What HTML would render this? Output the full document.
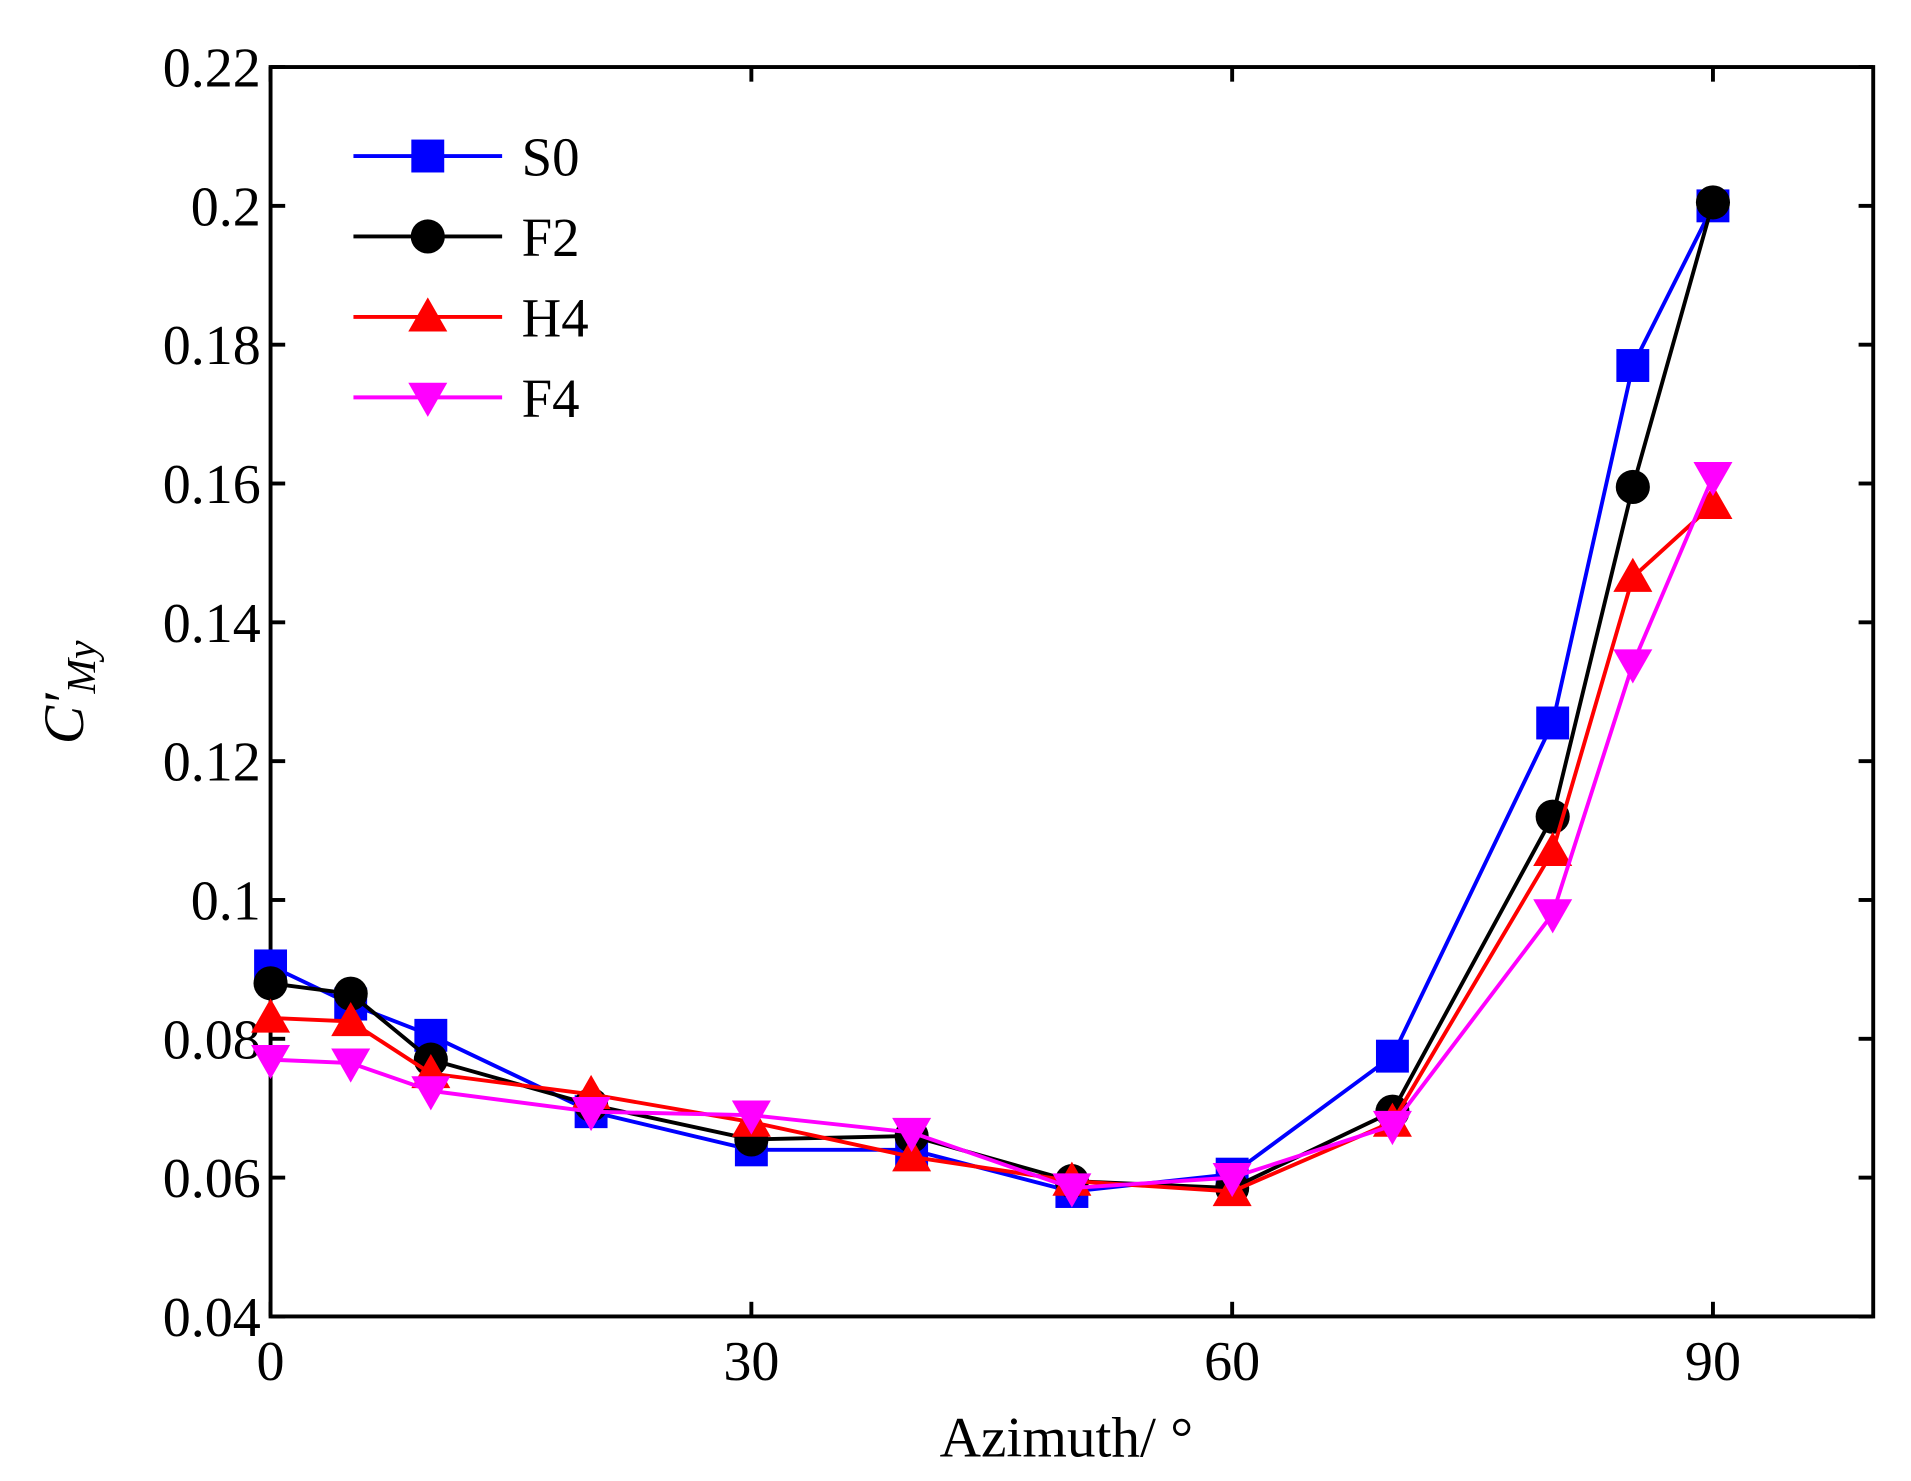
<!DOCTYPE html>
<html><head><meta charset="utf-8"><style>
html,body{margin:0;padding:0;background:#fff;}
svg{display:block;}
text{font-family:"Liberation Serif",serif;fill:#000;}
</style></head><body>
<svg id="s" width="1911" height="1481" viewBox="0 0 1568 1215" preserveAspectRatio="none" xmlns="http://www.w3.org/2000/svg"></svg>
<script>
const L=222,R=1537,T=55,B=1080;
const X=v=>L+(v/100)*(R-L);
const Y=v=>B-(v-0.04)/0.18*(B-T);
const SW=3.2;
let h='<rect x="'+L+'" y="'+T+'" width="'+(R-L)+'" height="'+(B-T)+'" fill="none" stroke="#000" stroke-width="'+SW+'"/>';
for(let i=0;i<=9;i++){const v=0.04+i*0.02,y=Y(v);
 h+=`<line x1="${L}" y1="${y}" x2="${L+12}" y2="${y}" stroke="#000" stroke-width="${SW}"/><line x1="${R}" y1="${y}" x2="${R-12}" y2="${y}" stroke="#000" stroke-width="${SW}"/>`;
 let lab=(Math.round(v*100)/100).toString();
 h+=`<text x="${L-8}" y="${y+16}" font-size="46" text-anchor="end">${lab}</text>`;}
for(const v of [0,30,60,90]){const x=X(v);
 h+=`<line x1="${x}" y1="${B}" x2="${x}" y2="${B-12}" stroke="#000" stroke-width="${SW}"/><line x1="${x}" y1="${T}" x2="${x}" y2="${T+12}" stroke="#000" stroke-width="${SW}"/>`;
 h+=`<text x="${x}" y="${B+52}" font-size="46" text-anchor="middle">${v}</text>`;}
h+=`<text x="875" y="1195" font-size="47" text-anchor="middle">Azimuth/ °</text>`;
h+=`<text transform="translate(68,568) rotate(-90)" font-size="47" text-anchor="middle" font-style="italic">C′<tspan font-size="34" dy="10">My</tspan></text>`;
const xs=[0,5,10,20,30,40,50,60,70,80,85,90];
const S=[
 ['S0','#0000ff','sq',[0.0905,0.085,0.0805,0.0695,0.064,0.064,0.058,0.0605,0.0775,0.1255,0.177,0.2]],
 ['F2','#000','ci',[0.088,0.0865,0.077,0.0705,0.0655,0.066,0.0595,0.0585,0.0695,0.112,0.1595,0.2005]],
 ['H4','#ff0000','up',[0.083,0.0825,0.075,0.072,0.068,0.063,0.0595,0.058,0.068,0.107,0.1465,0.157]],
 ['F4','#ff00ff','dn',[0.077,0.0765,0.0725,0.0695,0.069,0.0665,0.0585,0.06,0.0675,0.098,0.134,0.161]]];
function mk(t,x,y,c){
 if(t=='sq')return `<rect x="${x-13.5}" y="${y-13.5}" width="27" height="27" fill="${c}"/>`;
 if(t=='ci')return `<circle cx="${x}" cy="${y}" r="14" fill="${c}"/>`;
 if(t=='up')return `<polygon points="${x},${y-16} ${x+16},${y+12} ${x-16},${y+12}" fill="${c}"/>`;
 return `<polygon points="${x},${y+16} ${x+16},${y-12} ${x-16},${y-12}" fill="${c}"/>`;}
S.forEach((s,i)=>{
 const pts=xs.map((v,j)=>X(v)+','+Y(s[3][j])).join(' ');
 h+=`<polyline points="${pts}" fill="none" stroke="${s[1]}" stroke-width="${SW}"/>`;
 xs.forEach((v,j)=>h+=mk(s[2],X(v),Y(s[3][j]),s[1]));
 const ly=128+i*66;
 h+=`<line x1="290" y1="${ly}" x2="412" y2="${ly}" stroke="${s[1]}" stroke-width="${SW}"/>`+mk(s[2],351,ly,s[1]);
 h+=`<text x="428" y="${ly+16}" font-size="45">${s[0]}</text>`;
});
document.getElementById('s').innerHTML=h;
</script>
</body></html>
